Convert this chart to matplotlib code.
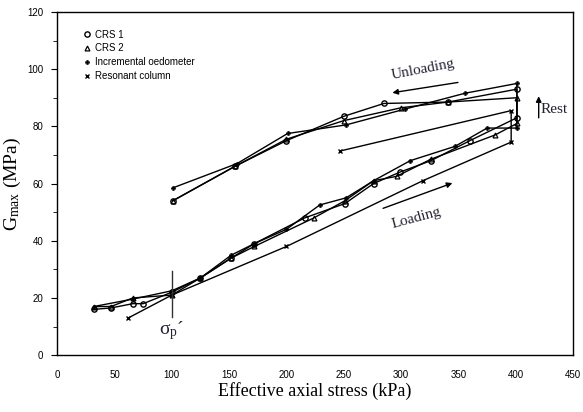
import matplotlib
matplotlib.use("Agg")
import matplotlib.pyplot as plt
from matplotlib.ticker import MultipleLocator

# ---- data ----
crs1_x = [32, 47, 66, 75, 100, 125, 152, 172, 216, 251, 276, 299, 326, 360, 401,
          401, 341, 285, 250, 200, 155, 101]
crs1_y = [16, 16.5, 18, 18, 22, 27, 34, 39, 48, 53, 60, 64, 68, 75, 83,
          93, 88.5, 88, 83.5, 75, 66, 54]

crs2_x = [32, 47, 66, 100, 125, 152, 172, 224, 251, 276, 296, 326, 382, 401,
          401, 341, 300, 250, 200, 155, 101]
crs2_y = [17, 17, 20, 21, 27, 34, 38, 48, 54, 61, 62.5, 68.5, 77, 81,
          90, 88.5, 86.5, 82, 75.5, 66, 54]

oedo_x = [32, 66, 100, 125, 152, 172, 200, 229, 252, 276, 308, 347, 375, 401,
          401, 356, 303, 252, 201, 157, 101]
oedo_y = [17, 19.6, 22.5, 27, 35, 39, 44, 52.5, 55, 61, 68, 73, 79.4, 79.4,
          95, 91.6, 86, 80.5, 77.5, 67, 58.5]

res_x = [62, 100, 200, 319, 396, 396, 247]
res_y = [13, 21, 38, 61, 74.5, 85.5, 71.4]

legend_labels = ["CRS 1", "CRS 2", "Incremental oedometer", "Resonant column"]

plt.rcParams["mathtext.fontset"] = "custom"
plt.rcParams["mathtext.rm"] = "Liberation Serif"
plt.rcParams["mathtext.it"] = "Liberation Serif:italic"

# ---- figure ----
fig = plt.figure(figsize=(5.83, 4.12), dpi=100)
ax = fig.add_axes([0.098, 0.138, 0.885, 0.833])

lw = 1.0
ax.plot(crs1_x, crs1_y, color="black", lw=lw, marker="o", ms=3.8,
        mfc="none", mec="black", mew=1.0, label=legend_labels[0])
ax.plot(crs2_x, crs2_y, color="black", lw=lw, marker="^", ms=3.5,
        mfc="none", mec="black", mew=0.9, label=legend_labels[1])
ax.plot(oedo_x, oedo_y, color="black", lw=lw, marker="P", ms=3.2,
        mfc="black", mec="black", mew=0.3, label=legend_labels[2])
ax.plot(res_x, res_y, color="black", lw=lw, marker="x", ms=3.5,
        mec="black", mew=1.0, label=legend_labels[3])

ax.set_xlim(0, 450)
ax.set_ylim(0, 120)
ax.xaxis.set_major_locator(MultipleLocator(50))
ax.yaxis.set_major_locator(MultipleLocator(20))
ax.yaxis.set_minor_locator(MultipleLocator(10))
ax.tick_params(axis="x", length=0, pad=11, labelsize=7)
ax.tick_params(axis="y", which="major", direction="out", length=4, labelsize=7, pad=6)
ax.tick_params(axis="y", which="minor", direction="out", length=3)
for lab in ax.get_xticklabels() + ax.get_yticklabels():
    lab.set_fontfamily("Liberation Sans")
for s in ax.spines.values():
    s.set_linewidth(1.0)

ax.set_xlabel("Effective axial stress (kPa)", fontfamily="Liberation Serif",
              fontsize=13, labelpad=1)
ax.set_ylabel(r"G$_{\mathrm{max}}$ (MPa)", fontfamily="Liberation Serif",
              fontsize=14)
ax.yaxis.set_label_coords(-0.066, 0.5)

leg = ax.legend(loc="upper left", bbox_to_anchor=(0.045, 0.96), frameon=False,
                prop={"family": "Liberation Sans", "size": 7},
                handlelength=0.6, handletextpad=0.5, labelspacing=0.4,
                borderaxespad=0)
for h in leg.legend_handles:
    h.set_linestyle("none")

# annotations
ax.text(319, 100, "Unloading", fontfamily="Liberation Serif", fontsize=11,
        rotation=11, ha="center", va="center", color="#222233")
ax.annotate("", xy=(290, 91.6), xytext=(352, 95.5),
            arrowprops=dict(arrowstyle="-|>", color="black", lw=1.0,
                            mutation_scale=8))
ax.text(313, 48, "Loading", fontfamily="Liberation Serif", fontsize=11,
        rotation=15, ha="center", va="center", color="#222233")
ax.annotate("", xy=(347, 60.5), xytext=(282, 51),
            arrowprops=dict(arrowstyle="-|>", color="black", lw=1.0,
                            mutation_scale=8))
ax.text(422, 86, "Rest", fontfamily="Liberation Serif", fontsize=11,
        ha="left", va="center", color="#222233")
ax.annotate("", xy=(420, 91.5), xytext=(420, 82),
            arrowprops=dict(arrowstyle="-|>", color="black", lw=1.0,
                            mutation_scale=8))
ax.plot([100, 100], [13.3, 29.4], color="#333333", lw=1.0)
ax.text(100, 8.5, r"σ$_\mathrm{p}$´", fontfamily="Liberation Serif", fontsize=14,
        ha="center", va="center", color="#222233")

fig.savefig("out.png", dpi=100)
